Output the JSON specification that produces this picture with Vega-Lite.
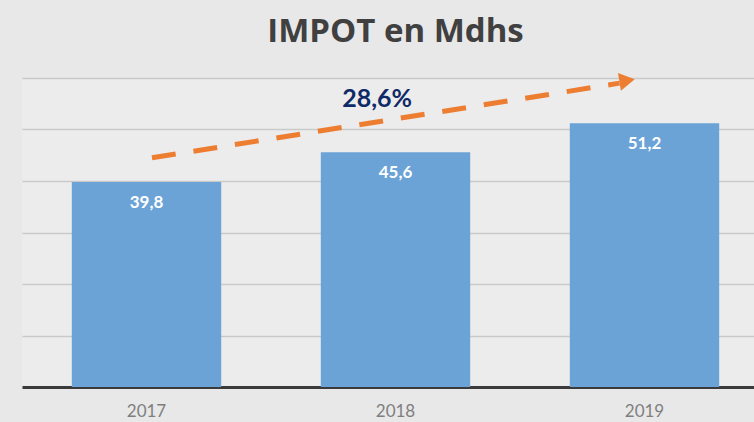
{
  "$schema": "https://vega.github.io/schema/vega-lite/v6.json",
  "autosize": "none",
  "width": 747,
  "height": 309,
  "padding": {"left": 22, "top": 78, "right": 0, "bottom": 35},
  "background": "#e8e8e8",
  "title": {
    "text": "IMPOT en Mdhs",
    "font": "Open Sans",
    "fontSize": 33,
    "fontWeight": "bold",
    "color": "#404040",
    "anchor": "middle",
    "offset": 24
  },
  "config": {
    "view": {"stroke": null, "fill": "#ececec"},
    "font": "Lato"
  },
  "datasets": {
    "bars": [
      {"year": "2017", "value": 39.8, "label": "39,8"},
      {"year": "2018", "value": 45.6, "label": "45,6"},
      {"year": "2019", "value": 51.2, "label": "51,2"}
    ],
    "arrow": [
      {"ax": 0.522, "ay": 44.5},
      {"ax": 2.40, "ay": 59.0}
    ],
    "head": [
      {"ax": 2.43, "ay": 59.5}
    ],
    "growth": [
      {"ax": 1.426, "ay": 55.9, "text": "28,6%"}
    ]
  },
  "layer": [
    {
      "data": {"name": "bars"},
      "encoding": {
        "x": {
          "field": "year", "type": "ordinal",
          "scale": {"paddingInner": 0.4, "paddingOuter": 0.2},
          "axis": {
            "title": null, "labelAngle": 0, "ticks": false,
            "labelFont": "Lato", "labelFontSize": 17, "labelColor": "#7f7f7f",
            "labelPadding": 16, "domainColor": "#3a3a3a", "domainWidth": 3
          }
        },
        "y": {
          "field": "value", "type": "quantitative",
          "scale": {"domain": [0, 60], "nice": false},
          "axis": {
            "title": null, "labels": false, "ticks": false, "domain": false,
            "values": [10, 20, 30, 40, 50, 60],
            "gridColor": "#c9c9c9", "gridWidth": 1.5
          }
        }
      },
      "layer": [
        {"mark": {"type": "bar", "color": "#6ca3d7"}},
        {
          "mark": {"type": "text", "color": "white", "fontWeight": "bold", "fontSize": 17, "font": "Lato", "dy": 21},
          "encoding": {"text": {"field": "label"}}
        }
      ]
    },
    {
      "encoding": {
        "x": {"field": "ax", "type": "quantitative", "scale": {"domain": [0, 3], "nice": false, "zero": false}, "axis": null},
        "y": {"field": "ay", "type": "quantitative"}
      },
      "layer": [
        {
          "data": {"name": "arrow"},
          "mark": {"type": "line", "color": "#ed7d31", "strokeWidth": 5, "strokeDash": [24, 18], "strokeCap": "butt"}
        },
        {
          "data": {"name": "head"},
          "mark": {"type": "point", "shape": "triangle-right", "filled": true, "color": "#ed7d31", "opacity": 1, "size": 320, "angle": -9.4}
        },
        {
          "data": {"name": "growth"},
          "mark": {"type": "text", "color": "#0f2a66", "fontWeight": "bold", "fontSize": 25, "font": "Lato"},
          "encoding": {"text": {"field": "text"}}
        }
      ]
    }
  ],
  "resolve": {"scale": {"x": "independent"}}
}
